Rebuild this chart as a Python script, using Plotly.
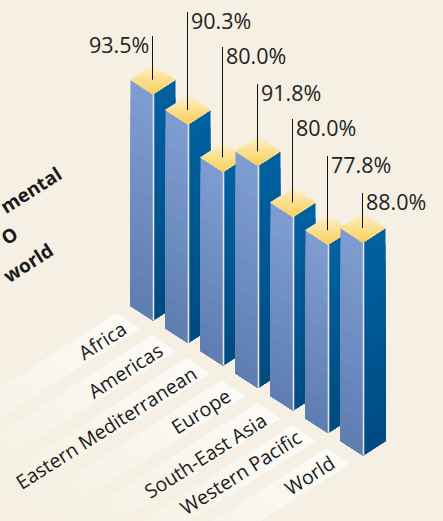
import plotly.graph_objects as go

categories = ["Africa", "Americas", "Eastern Mediterranean", "Europe",
              "South-East Asia", "Western Pacific", "World"]
values = [93.5, 90.3, 80.0, 91.8, 80.0, 77.8, 88.0]
value_labels = ["93.5%", "90.3%", "80.0%", "91.8%", "80.0%", "77.8%", "88.0%"]
title_fragments = ["mental", "O", "world"]

# layout (pixel-based projection of an isometric view)
W, H = 443, 521
BG = "#f5f0e3"
X0, Y0, DX, DY = 153.0, 320.5, 35.0, 22.5
SCALE = 2.42
HW, HH = 22.5, 14.5
LEADER_TOP = [36, 12, 47, 84, 119, 156, 193]
LABEL_CENTERS = [(102, 340), (125, 370), (106, 427), (200, 411), (205, 455), (240, 472), (309, 475)]
TITLE_CENTERS = [(31, 190), (9, 236), (28, 263)]
ANGLE = -32.5


def lerp(a, b, t):
    return tuple(a[k] + (b[k] - a[k]) * t for k in range(3))


def rgb(c):
    return "rgb(%d,%d,%d)" % tuple(round(v) for v in c)


fig = go.Figure()


def poly(xs, ys, color):
    fig.add_trace(go.Scatter(x=list(xs) + [xs[0]], y=list(ys) + [ys[0]], mode="lines",
                             fill="toself", fillcolor=color, line=dict(width=0),
                             hoverinfo="skip", showlegend=False))


# label strips
STRIP_STEPS = 14
STRIP_LEN = 200.0
STRIP_SLOPE = 0.64
for i in range(len(categories)):
    tx = 117 + DX * i
    ty = 313 + DY * i
    rx, ry = tx + 23, ty + 15.5
    for s in range(STRIP_STEPS):
        f0 = s / STRIP_STEPS
        c = lerp((245, 240, 227), (251, 251, 246), f0 ** 1.1)
        l = STRIP_LEN * (1 - f0)
        poly([tx - l, tx, rx, rx - l],
             [ty + l * STRIP_SLOPE, ty, ry, ry + l * STRIP_SLOPE], rgb(c))

# bars
BANDS = 13
LEFT_TOP, LEFT_BOT = (126, 156, 208), (92, 124, 176)
RIGHT_TOP, RIGHT_BOT = (0, 96, 160), (0, 74, 128)
GOLD_TOP, GOLD_BOT = (253, 239, 196), (249, 205, 85)
for i, v in enumerate(values):
    cx = X0 + DX * i
    yb = Y0 + DY * i
    yt = yb - SCALE * v
    for b in range(BANDS):
        f = b / BANDS
        y = yt + (yb - yt) * f
        poly([cx - HW, cx, cx, cx - HW], [y - HH, y, yb, yb - HH], rgb(lerp(LEFT_TOP, LEFT_BOT, f)))
        poly([cx, cx + HW, cx + HW, cx], [y, y - HH, yb - HH, yb], rgb(lerp(RIGHT_TOP, RIGHT_BOT, f)))
    # divider
    fig.add_trace(go.Scatter(x=[cx + 0.5, cx + 0.5], y=[yt, yb], mode="lines",
                             line=dict(color="#e4e4e4", width=1.6), hoverinfo="skip", showlegend=False))
    # top
    n = 12
    ytop = yt - 2 * HH
    for b in range(n):
        f = b / n
        y = ytop + 2 * HH * f
        if f <= 0.5:
            w = HW * 2 * f
            xs = [cx - w, cx + w, cx + HW, cx, cx - HW]
            ys = [y, y, yt - HH, yt, yt - HH]
        else:
            w = HW * 2 * (1 - f)
            xs = [cx - w, cx + w, cx]
            ys = [y, y, yt]
        poly(xs, ys, rgb(lerp(GOLD_TOP, GOLD_BOT, f)))
    # leader
    fig.add_trace(go.Scatter(x=[cx - 0.5, cx - 0.5], y=[yt - HH, LEADER_TOP[i]], mode="lines",
                             line=dict(color="#111111", width=1), hoverinfo="skip", showlegend=False))

    if i == 0:
        xa, xp = "right", cx - 2.0
    else:
        xa, xp = "left", cx + 0.5
    fig.add_annotation(x=xp, y=LEADER_TOP[i] + 8, text=value_labels[i], showarrow=False,
                       xanchor=xa, yanchor="middle", xshift=0,
                       font=dict(family="Open Sans", size=21.5, color="#222222"))

for name, (x, y) in zip(categories, LABEL_CENTERS):
    fig.add_annotation(x=x, y=y, text=name, showarrow=False, textangle=ANGLE,
                       xanchor="center", yanchor="middle",
                       font=dict(family="Open Sans", size=19.5, color="#1a1a1a"))

for t, (x, y) in zip(title_fragments, TITLE_CENTERS):
    fig.add_annotation(x=x, y=y, text="<b>%s</b>" % t, showarrow=False, textangle=ANGLE,
                       xanchor="center", yanchor="middle",
                       font=dict(family="Open Sans", size=19, color="#1a1a1a"))

fig.update_layout(width=W, height=H, margin=dict(l=0, r=0, t=0, b=0),
                  paper_bgcolor=BG, plot_bgcolor=BG, showlegend=False,
                  xaxis=dict(range=[0, W], visible=False, fixedrange=True),
                  yaxis=dict(range=[H, 0], visible=False, fixedrange=True))
fig.write_html("out.html", config=dict(displayModeBar=False),
               post_script="document.body.style.margin='0';document.body.style.background='%s';document.body.style.overflow='hidden';" % BG)
